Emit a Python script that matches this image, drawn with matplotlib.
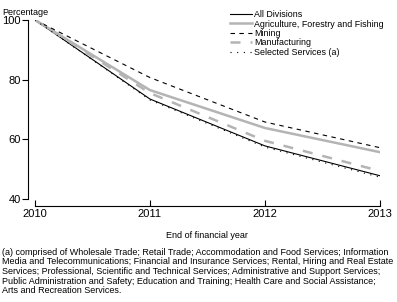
import matplotlib
matplotlib.use("Agg")
import matplotlib.pyplot as plt

plt.rcParams['font.family'] = ['Liberation Sans Narrow', 'Liberation Sans', 'DejaVu Sans']

# data
years = [2010, 2011, 2012, 2013]
all_div = [100, 73.5, 57.8, 47.8]
agri = [100, 76.5, 63.8, 55.7]
mining = [100, 80.7, 65.8, 57.2]
manuf = [100, 75.5, 59.5, 49.4]
selected = [100, 73.2, 57.4, 47.3]

grey = '#b4b4b4'

fig = plt.figure(figsize=(3.97, 3.02), dpi=100)
ax = fig.add_axes([0.088, 0.341, 0.869, 0.593])

ax.plot(years, all_div, color='black', lw=0.8, label='All Divisions')
ax.plot(years, agri, color=grey, lw=1.8, label='Agriculture, Forestry and Fishing')
ax.plot(years, mining, color='black', lw=0.8, dashes=(4, 4), label='Mining')
ax.plot(years, manuf, color=grey, lw=1.8, dashes=(4, 4), label='Manufacturing')
ax.plot(years, selected, color='black', lw=0.8, dashes=(1, 5), label='Selected Services (a)')

ax.set_xlim(2010, 2013)
ax.set_ylim(40, 100)
ax.set_xticks(years)
ax.set_yticks([40, 60, 80, 100])

for s in ['top', 'right']:
    ax.spines[s].set_visible(False)
ax.spines['left'].set_position(('outward', 5))
ax.spines['bottom'].set_position(('outward', 5))
ax.spines['left'].set_bounds(40, 100)
ax.spines['bottom'].set_bounds(2010, 2013)
ax.spines['left'].set_linewidth(0.8)
ax.spines['bottom'].set_linewidth(0.8)

ax.tick_params(axis='y', direction='out', length=4, width=0.8, labelsize=8, pad=1)
ax.tick_params(axis='x', direction='in', length=4, width=0.8, labelsize=8, pad=2)

ax.set_xlabel('End of financial year', fontsize=6.5, labelpad=9)
fig.text(0.005, 0.975, 'Percentage', fontsize=6.5, va='top', ha='left')

leg = ax.legend(loc='upper left', bbox_to_anchor=(0.555, 1.075), frameon=False,
                fontsize=6.4, handlelength=2.5, handletextpad=0.2,
                labelspacing=0.05, borderaxespad=0)

note = ('(a) comprised of Wholesale Trade; Retail Trade; Accommodation and Food Services; Information\n'
        'Media and Telecommunications; Financial and Insurance Services; Rental, Hiring and Real Estate\n'
        'Services; Professional, Scientific and Technical Services; Administrative and Support Services;\n'
        'Public Administration and Safety; Education and Training; Health Care and Social Assistance;\n'
        'Arts and Recreation Services.')
fig.text(0.005, 0.18, note, fontsize=6.45, va='top', ha='left', linespacing=1.1)

fig.savefig('out.png', dpi=100)
